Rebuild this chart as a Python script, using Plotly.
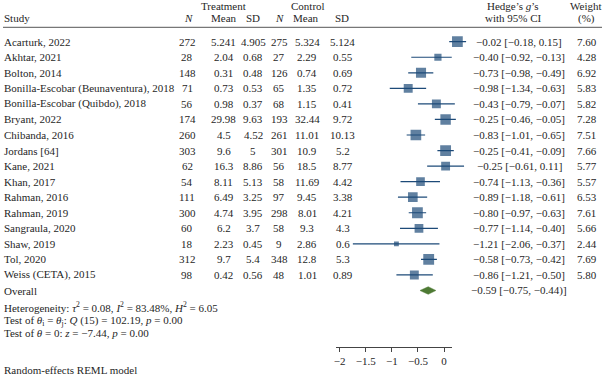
import plotly.graph_objects as go

W, H = 602, 376

studies = ["Acarturk, 2022", "Akhtar, 2021", "Bolton, 2014",
           "Bonilla-Escobar (Beunaventura), 2018", "Bonilla-Escobar (Quibdo), 2018",
           "Bryant, 2022", "Chibanda, 2016", "Jordans [64]", "Kane, 2021", "Khan, 2017",
           "Rahman, 2016", "Rahman, 2019", "Sangraula, 2020", "Shaw, 2019", "Tol, 2020",
           "Weiss (CETA), 2015"]
t_n = ["272", "28", "148", "71", "56", "174", "260", "303", "62", "54", "111", "300", "60", "18", "312", "98"]
t_mean = ["5.241", "2.04", "0.31", "0.73", "0.98", "29.98", "4.5", "9.6", "16.3", "8.11", "6.49", "4.74", "6.2", "2.23", "9.7", "0.42"]
t_sd = ["4.905", "0.68", "0.48", "0.53", "0.37", "9.63", "4.52", "5", "8.86", "5.13", "3.25", "3.95", "3.7", "0.45", "5.4", "0.56"]
c_n = ["275", "27", "126", "65", "68", "193", "261", "301", "56", "58", "97", "298", "58", "9", "348", "48"]
c_mean = ["5.324", "2.29", "0.74", "1.35", "1.15", "32.44", "11.01", "10.9", "18.5", "11.69", "9.45", "8.01", "9.3", "2.86", "12.8", "1.01"]
c_sd = ["5.124", "0.55", "0.69", "0.72", "0.41", "9.72", "10.13", "5.2", "8.77", "4.42", "3.38", "4.21", "4.3", "0.6", "5.3", "0.89"]
g = [-0.02, -0.40, -0.73, -0.98, -0.43, -0.25, -0.83, -0.25, -0.25, -0.74, -0.89, -0.80, -0.77, -1.21, -0.58, -0.86]
lo = [-0.18, -0.92, -0.98, -1.34, -0.79, -0.46, -1.01, -0.41, -0.61, -1.13, -1.18, -0.97, -1.14, -2.06, -0.73, -1.21]
hi = [0.15, -0.13, -0.49, -0.63, -0.07, -0.05, -0.65, -0.09, 0.11, -0.36, -0.61, -0.63, -0.40, -0.37, -0.42, -0.50]
weight = [7.60, 4.28, 6.92, 5.83, 5.82, 7.28, 7.51, 7.66, 5.77, 5.57, 6.53, 7.61, 5.66, 2.44, 7.69, 5.80]
overall = {"g": -0.59, "lo": -0.75, "hi": -0.44}
overall_text = "\u22120.59 [\u22120.75, \u22120.44)]"
tick_vals = [-2, -1.5, -1, -0.5, 0]

FONT = "Liberation Serif"
TXT = "#262626"
BLUE = "#1d4a78"
GREEN = "#4e7a34"
FS = 11

row0, step = 41.7, 15.55
rows_y = [row0 + i * step for i in range(len(studies))]
ov_y = row0 + len(studies) * step


def fmt(x):
    return f"{x:.2f}".replace("-", "\u2212")


fig = go.Figure()

# study squares with CI
fig.add_trace(go.Scatter(
    x=g, y=rows_y, mode="markers", xaxis="x", yaxis="y",
    marker=dict(symbol="square", color=BLUE, size=[2.6 * w ** 0.7 for w in weight], line=dict(width=0)),
    error_x=dict(type="data", symmetric=False,
                 array=[h - v for h, v in zip(hi, g)],
                 arrayminus=[v - l for v, l in zip(g, lo)],
                 width=0, thickness=1.2, color=BLUE),
    hoverinfo="skip", showlegend=False))

# overall diamond
dh = 3.8
fig.add_trace(go.Scatter(
    x=[overall["lo"], overall["g"], overall["hi"], overall["g"], overall["lo"]],
    y=[ov_y, ov_y - dh, ov_y, ov_y + dh, ov_y],
    mode="lines", fill="toself", fillcolor=GREEN, line=dict(color=GREEN, width=0.5),
    xaxis="x", yaxis="y", hoverinfo="skip", showlegend=False))

# dummy trace for the tick axis
fig.add_trace(go.Scatter(x=tick_vals, y=[None] * len(tick_vals), xaxis="x2", yaxis="y",
                         mode="markers", showlegend=False, hoverinfo="skip"))

ann = []


def add(px, y, text, anchor="center", size=FS):
    ann.append(dict(x=px / W, xref="paper", y=y, yref="y", text=text, showarrow=False,
                    xanchor=anchor, yanchor="middle", font=dict(family=FONT, size=size, color=TXT)))


# headers
add(221.7, 6, "Treatment")
add(307, 6, "Control")
add(-1, 18.3, "Study", "left")
add(186, 18.3, "<i>N</i>")
add(221.7, 18.3, "Mean")
add(251.7, 18.3, "SD")
add(278, 18.3, "<i>N</i>")
add(305, 18.3, "Mean")
add(341, 18.3, "SD")
add(513, 6, "Hedge\u2019s <i>g</i>\u2019s")
add(513, 18.3, "with 95% CI")
add(585.5, 6, "Weight")
add(586, 18.3, "(%)")

for i, y in enumerate(rows_y):
    add(-1, y, studies[i], "left")
    add(185, y, t_n[i])
    add(221.7, y, t_mean[i])
    add(251.7, y, t_sd[i])
    add(277.5, y, c_n[i])
    add(306, y, c_mean[i])
    add(341.5, y, c_sd[i])
    add(519, y, f"{fmt(g[i])} [{fmt(lo[i])}, {fmt(hi[i])}]")
    add(586.5, y, f"{weight[i]:.2f}")

add(-1, ov_y, "Overall", "left")
add(519, ov_y, overall_text)
add(-1, 307, "Heterogeneity: <i>\u03c4</i><sup>2</sup> = 0.08, <i>I</i><sup>2</sup> = 83.48%, <i>H</i><sup>2</sup> = 6.05", "left")
add(-1, 320.5, "Test of <i>\u03b8</i><sub>i</sub> = <i>\u03b8</i><sub>j</sub>: <i>Q</i> (15) = 102.19, <i>p</i> = 0.00", "left")
add(-1, 333, "Test of <i>\u03b8</i> = 0: <i>z</i> = \u22127.44, <i>p</i> = 0.00", "left")
add(-1, 370, "Random-effects REML model", "left")

shapes = [dict(type="line", xref="paper", yref="y", x0=0, x1=1, y0=27.3, y1=27.3,
               line=dict(color="#555555", width=1))]

# marker axis (hidden) and tick axis
mx0, mx1 = 330.0, 480.0
zero_px, scale = 457.7, 51.5
ax0, ax1 = 335.0, 451.7
ax_zero, ax_scale = 443.3, 52.5

fig.update_layout(
    width=W, height=H, margin=dict(l=0, r=0, t=0, b=0),
    paper_bgcolor="white", plot_bgcolor="rgba(0,0,0,0)",
    xaxis=dict(domain=[mx0 / W, mx1 / W], range=[(mx0 - zero_px) / scale, (mx1 - zero_px) / scale],
               visible=False, fixedrange=True),
    xaxis2=dict(domain=[ax0 / W, ax1 / W], range=[(ax0 - ax_zero) / ax_scale, (ax1 - ax_zero) / ax_scale],
                anchor="free", position=1 - 346.7 / H,
                showline=True, linecolor="#444444", linewidth=1, showgrid=False, zeroline=False,
                ticks="outside", ticklen=4, tickcolor="#444444", tickwidth=1,
                tickvals=tick_vals, tickfont=dict(family=FONT, size=FS, color=TXT), fixedrange=True),
    yaxis=dict(domain=[0, 1], range=[H, 0], visible=False, fixedrange=True),
    annotations=ann, shapes=shapes, showlegend=False,
)

fig.write_html("out.html", config={"displayModeBar": False},
               post_script="document.body.style.margin='0';")
